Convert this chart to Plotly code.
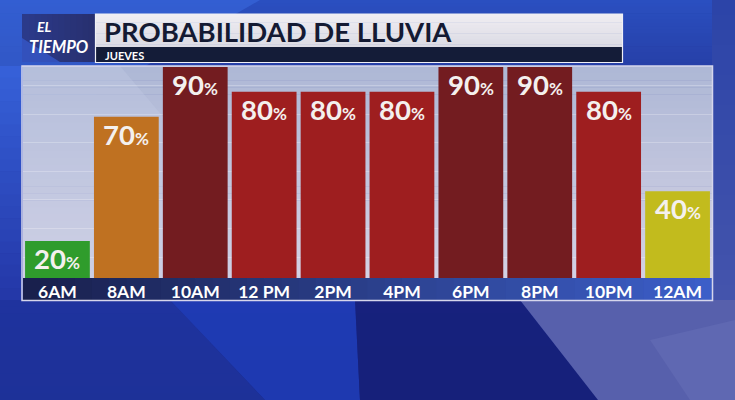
import plotly.graph_objects as go

# ---------------- data ----------------
hours = ["6AM", "8AM", "10AM", "12 PM", "2PM", "4PM", "6PM", "8PM", "10PM", "12AM"]
rain_pct = [20, 70, 90, 80, 80, 80, 90, 90, 80, 40]
bar_colors = ["#2f9c2c", "#bf7121", "#731c20", "#9e1e1f", "#9e1e1f", "#9e1e1f",
              "#731c20", "#731c20", "#9e1e1f", "#c2bb1d"]
title_text = "PROBABILIDAD DE LLUVIA"
subtitle_text = "JUEVES"

W, H = 735, 400
L, R, T, B = 23, 712, 66, 278   # plot area in pixels
PW, PH = R - L, B - T

def px(x):
    return (x - L) / PW

def py(y):
    return (B - y) / PH

def hex2rgb(h):
    h = h.lstrip("#")
    return tuple(int(h[i:i + 2], 16) for i in (0, 2, 4))

def lerp(c1, c2, t):
    a, b = hex2rgb(c1), hex2rgb(c2)
    return "rgb(%d,%d,%d)" % tuple(round(a[i] + (b[i] - a[i]) * t) for i in range(3))

shapes = []

def rect(x0, y0, x1, y1, color, layer="below", line=None):
    d = dict(type="rect", xref="paper", yref="paper", x0=px(x0), x1=px(x1),
             y0=py(y0), y1=py(y1), fillcolor=color, layer=layer,
             line=line or dict(width=0))
    shapes.append(d)

def poly(points, color, layer="below", opacity=1.0):
    path = "M" + " L".join("%.5f,%.5f" % (px(a), py(b)) for a, b in points) + " Z"
    shapes.append(dict(type="path", xref="paper", yref="paper", path=path,
                       fillcolor=color, opacity=opacity, layer=layer,
                       line=dict(width=0)))

def hgrad(x0, y0, x1, y1, c1, c2, n=30, layer="below"):
    step = (x1 - x0) / n
    for i in range(n):
        rect(x0 + i * step, y0, x0 + (i + 1) * step + 0.6, y1,
             lerp(c1, c2, i / (n - 1)), layer)

def vgrad(x0, y0, x1, y1, c1, c2, n=30, layer="below"):
    step = (y1 - y0) / n
    for i in range(n):
        rect(x0, y0 + i * step, x1, y0 + (i + 1) * step + 0.6,
             lerp(c1, c2, i / (n - 1)), layer)

# ---------------- background decoration ----------------
vgrad(0, 0, W, 66, "#2a4fc0", "#2740a8", n=20)
poly([(0, 0), (260, 0), (0, 150)], "#3a6be0", opacity=0.55)
vgrad(0, 66, 23, 300, "#3660d8", "#2438a8", n=20)
vgrad(712, 0, W, 300, "#2c44a8", "#4454ac", n=20)
vgrad(0, 300, W, 400, "#1e2f96", "#18237a", n=15)
poly([(0, 300), (170, 300), (265, 400), (0, 400)], "#1f34a0", opacity=0.8)
poly([(170, 300), (355, 300), (360, 400), (265, 400)], "#1f3cb6", opacity=0.9)
poly([(355, 300), (520, 300), (598, 400), (360, 400)], "#16207a", opacity=0.9)
poly([(520, 300), (735, 300), (735, 400), (598, 400)], "#5760ac")
poly([(650, 340), (735, 320), (735, 400), (690, 400)], "#6870b8", opacity=0.5)

# panel background
vgrad(L, T, R, B, "#aeb8d6", "#d3d1e4", n=30)
poly([(L, 66), (120, 66), (300, 278), (L, 278)], "#c4cbe4", opacity=0.35)

# axis band under the bars
hgrad(L, B, R, 300, "#19204d", "#3c5ec8", n=40)

# panel border
shapes.append(dict(type="rect", xref="paper", yref="paper", x0=px(22), x1=px(712.5),
                   y0=py(66), y1=py(300.5), line=dict(color="#d6d6ec", width=1.5),
                   fillcolor="rgba(0,0,0,0)", layer="above"))

# header: logo box
hgrad(22, 14, 95, 62, "#2b3a8a", "#283070", n=12)
poly([(22, 38), (60, 62), (22, 62)], "#3658c8", opacity=0.8)
# title box
vgrad(96, 14, 622, 47, "#efedf2", "#dcdbe4", n=12)
rect(96, 47, 622, 62, "#141c38")
shapes.append(dict(type="rect", xref="paper", yref="paper", x0=px(95.5), x1=px(622.5),
                   y0=py(14), y1=py(62.5), line=dict(color="#f0f0f6", width=1.2),
                   fillcolor="rgba(0,0,0,0)", layer="below"))

annotations = []

def ptext(x, y, text, size, color, xanchor="left", yanchor="middle", family="Lato"):
    annotations.append(dict(xref="paper", yref="paper", x=px(x), y=py(y), text=text,
                            showarrow=False, xanchor=xanchor, yanchor=yanchor,
                            borderpad=0,
                            font=dict(family=family, size=size, color=color)))

ptext(103, 31, "<b>" + title_text + "</b>", 27.5, "#141a33")
ptext(104, 55, "<b>" + subtitle_text + "</b>", 11, "#ffffff")
ptext(44, 26, "<b><i>EL</i></b>", 14, "#ffffff", xanchor="center")
ptext(58, 47, "<b><i>TIEMPO</i></b>", 16.5, "#ffffff", xanchor="center")

# value labels inside bar tops
for h, v in zip(hours, rain_pct):
    annotations.append(dict(
        x=h, y=v, xref="x", yref="y", yanchor="top", yshift=1, showarrow=False,
        text="<b>%d</b><span style='font-size:17px'><b>%%</b></span>" % v,
        font=dict(family="Lato", size=27.5, color="#f4f0ee")))

fig = go.Figure(go.Bar(
    x=hours, y=rain_pct, marker=dict(color=bar_colors, line=dict(width=0)),
    hoverinfo="skip"))

fig.update_layout(
    width=W, height=H,
    margin=dict(l=L, r=W - R, t=T, b=H - B, pad=0),
    paper_bgcolor="#1d2c8a", plot_bgcolor="rgba(0,0,0,0)",
    bargap=0.06, showlegend=False,
    shapes=shapes, annotations=annotations,
    xaxis=dict(range=[-0.5, 9.5], showgrid=False, zeroline=False, showline=False,
               ticks="", ticklabelstandoff=1,
               tickfont=dict(family="Lato", size=17.5, color="#ffffff", weight=700),
               fixedrange=True),
    yaxis=dict(range=[5.1, 90.4], showticklabels=False, zeroline=False,
               showgrid=True, gridcolor="rgba(255,255,255,0.25)", gridwidth=1,
               tick0=25, dtick=11.5, fixedrange=True),
)

fig.write_html("out.html", config=dict(displayModeBar=False),
               post_script="document.body.style.margin='0';document.body.style.overflow='hidden';")
